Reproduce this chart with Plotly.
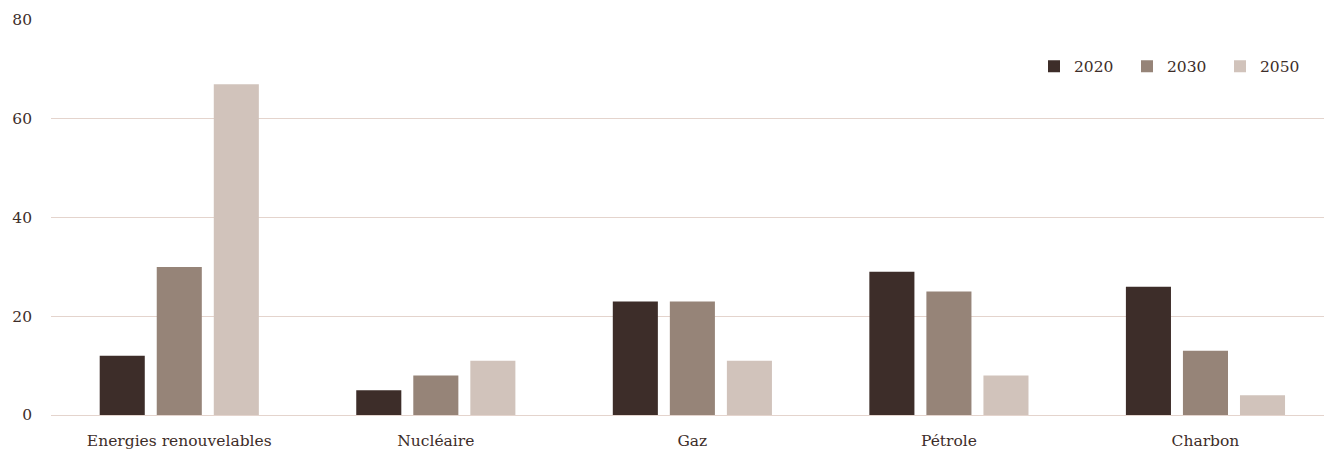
import plotly.graph_objects as go

categories = ["Energies renouvelables", "Nucléaire", "Gaz", "Pétrole", "Charbon"]
series_names = ["2020", "2030", "2050"]
values_2020 = [12, 5, 23, 29, 26]
values_2030 = [30, 8, 23, 25, 13]
values_2050 = [67, 11, 11, 8, 4]
y_ticks = [0, 20, 40, 60, 80]

colors = ["#3d2d29", "#968478", "#d1c3bb"]
text_color = "#3d2d29"
grid_color = "#e4d4cd"
font_family = "DejaVu Serif, Liberation Serif, serif"

fig = go.Figure()
for name, vals, col in zip(series_names, [values_2020, values_2030, values_2050], colors):
    fig.add_trace(go.Bar(
        name=name, x=categories, y=vals,
        marker=dict(color=col, line=dict(width=0)),
    ))

fig.update_layout(
    width=1324, height=452,
    margin=dict(l=51, r=0, t=20, b=37, autoexpand=False),
    paper_bgcolor="white", plot_bgcolor="white",
    barmode="group", bargap=0.333, bargroupgap=0.21,
    font=dict(family=font_family, size=15.5, color=text_color),
    legend=dict(
        orientation="h", x=(1049 - 51 - 15) / 1273, xanchor="left", y=0.882, yanchor="middle",
        font=dict(size=15.5, color=text_color), entrywidth=48, entrywidthmode="pixels",
        bgcolor="rgba(0,0,0,0)",
    ),
    xaxis=dict(
        type="category", range=[-0.5, 4.462], showgrid=False, zeroline=False,
        showline=False, ticks="", ticklabelstandoff=14, tickfont=dict(size=15.5, color=text_color),
    ),
    yaxis=dict(
        range=[0, 80], tickvals=y_ticks, showgrid=True, gridcolor=grid_color, gridwidth=1,
        zeroline=True, zerolinecolor=grid_color, zerolinewidth=1, showline=False,
        ticks="", ticklabelstandoff=18, tickfont=dict(size=15.5, color=text_color),
    ),
)

fig.write_html("out.html")
